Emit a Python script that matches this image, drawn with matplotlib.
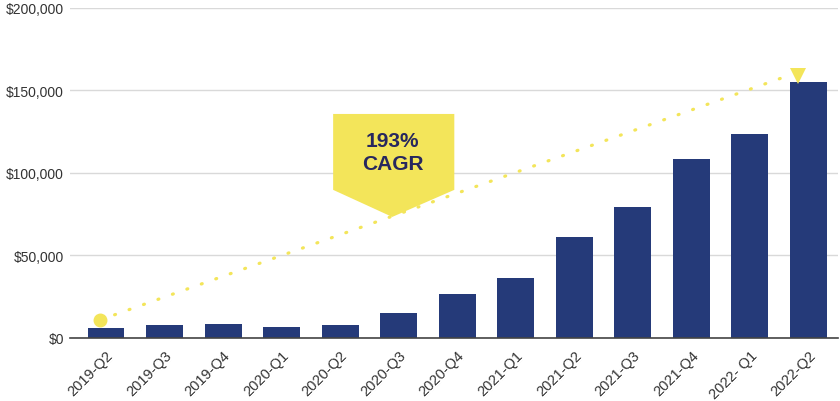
import matplotlib.pyplot as plt
from matplotlib.patches import Polygon
from matplotlib.ticker import FuncFormatter

quarters = ['2019-Q2', '2019-Q3', '2019-Q4', '2020-Q1', '2020-Q2', '2020-Q3', '2020-Q4',
            '2021-Q1', '2021-Q2', '2021-Q3', '2021-Q4', '2022- Q1', '2022-Q2']
revenue = [6000, 7900, 8500, 6700, 7900, 15000, 26700,
           36400, 61200, 79400, 108500, 123600, 155000]

# trend arrow start / end (x index, value)
trend_x = [-0.1, 11.74]
trend_y = [10900, 160000]
cagr_text = '193%\nCAGR'

bar_color = '#253a79'
yellow = '#f3e55a'

plt.rcParams['font.family'] = ['Liberation Sans', 'DejaVu Sans']

fig = plt.figure(figsize=(8.4, 4.02), dpi=100)
ax = fig.add_axes([0.083, 0.157, 0.915, 0.821])

x = list(range(len(quarters)))
ax.bar(x, revenue, width=0.63, color=bar_color, zorder=3)

ax.set_xlim(-0.62, 12.51)
ax.set_ylim(0, 200000)
ax.set_yticks([0, 50000, 100000, 150000, 200000])
ax.yaxis.set_major_formatter(FuncFormatter(lambda v, p: '${:,.0f}'.format(v)))
ax.set_xticks(x)
ax.set_xticklabels(quarters, rotation=45, ha='right', rotation_mode='anchor')
ax.tick_params(axis='both', length=0, labelsize=10, colors='#333333')
ax.tick_params(axis='x', pad=7, labelsize=10.5)
ax.tick_params(axis='y', pad=4)

ax.grid(axis='y', color='#d9d9d9', linewidth=1, zorder=0)
for s in ['top', 'right', 'left']:
    ax.spines[s].set_visible(False)
ax.spines['bottom'].set_color('#444444')
ax.spines['bottom'].set_linewidth(1.2)
ax.spines['bottom'].set_zorder(4)

# dotted trend line with dot at start and triangle at end
ax.plot(trend_x, trend_y, color=yellow, linestyle=(0, (0.3, 4.5)), linewidth=2.3,
        dash_capstyle='round', zorder=5, clip_on=False)
ax.plot(trend_x[0], trend_y[0], 'o', color=yellow, markersize=9, zorder=6, clip_on=False)
ax.plot(trend_x[1] + 0.08, trend_y[1] - 1500, 'v', color=yellow, markersize=11, zorder=6,
        clip_on=False, markeredgewidth=0)

# CAGR callout
callout = Polygon([(3.88, 135700), (5.95, 135700), (5.95, 89700), (4.89, 73300), (3.88, 89700)],
                  closed=True, facecolor=yellow, edgecolor='none', zorder=6)
ax.add_patch(callout)
ax.text(4.9, 112500, cagr_text, ha='center', va='center', fontsize=15, fontweight='bold',
        color='#27275e', linespacing=1.25, zorder=7)

fig.savefig('out.png', dpi=100)
